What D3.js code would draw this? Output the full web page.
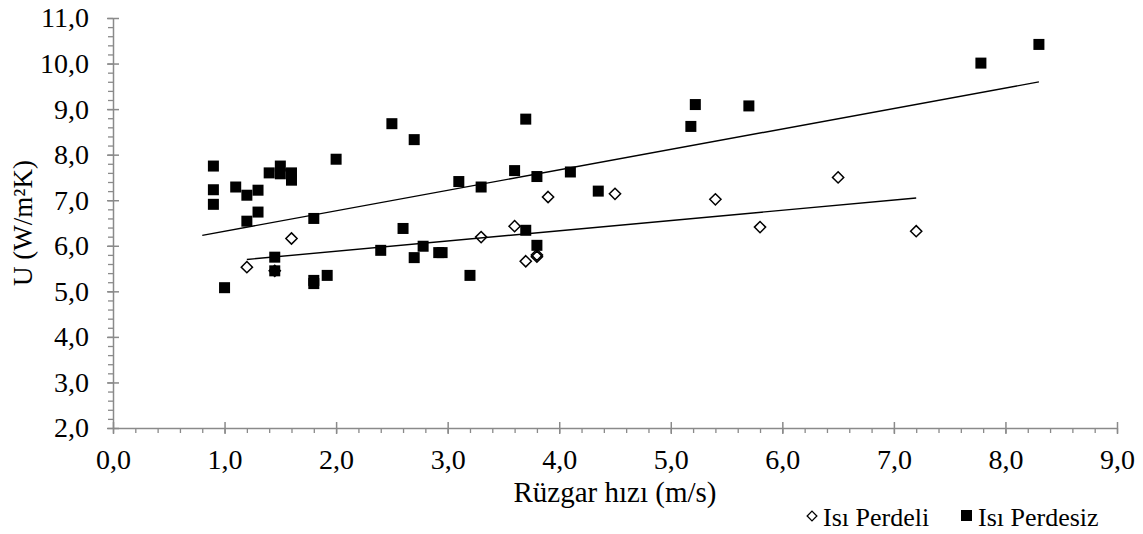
<!DOCTYPE html>
<html>
<head>
<meta charset="utf-8">
<script src="https://cdn.jsdelivr.net/npm/d3@7"></script>
<style>
  body { margin: 0; background: #fff; }
  svg text { font-family: 'Liberation Serif', 'Times New Roman', serif; fill: #000; }
</style>
</head>
<body>
<div id="chart"></div>
<script>
// Isı Perdeli (open diamonds)
const perdeliX = [1.2, 1.45, 1.6, 3.3, 3.6, 3.7, 3.8, 3.8, 3.9, 4.5, 5.4, 5.8, 6.5, 7.2]
const perdeliY = [5.53, 5.45, 6.16, 6.19, 6.43, 5.66, 5.76, 5.8, 7.07, 7.14, 7.02, 6.41, 7.5, 6.32]

// Isı Perdesiz (filled squares)
const perdesizX = [0.9, 0.9, 0.9, 1.0, 1.1, 1.2, 1.2, 1.3, 1.3, 1.4, 1.45, 1.45, 1.5, 1.5, 1.6, 1.6,
    1.8, 1.8, 1.8, 1.92, 2.0, 2.4, 2.5, 2.6, 2.7, 2.7, 2.78, 2.92, 2.95, 3.1, 3.2, 3.3, 3.6,
    3.7, 3.7, 3.8, 3.8, 4.1, 4.35, 5.18, 5.22, 5.7, 7.78, 8.3]
const perdesizY = [7.75, 7.23, 6.91, 5.08, 7.29, 7.11, 6.54, 7.22, 6.74, 7.6, 5.75, 5.45, 7.75, 7.58, 7.6, 7.44,
    6.6, 5.24, 5.17, 5.35, 7.9, 5.9, 8.68, 6.38, 8.33, 5.74, 5.99, 5.85, 5.85, 7.41, 5.35, 7.29, 7.65,
    8.78, 6.34, 7.52, 6.01, 7.62, 7.2, 8.62, 9.1, 9.07, 10.01, 10.42]

// linear trend lines: [x start, x end], slope, intercept
const perdeliTrend = { range: [1.2, 7.2], slope: 0.225, intercept: 5.43 }
const perdesizTrend = { range: [0.8, 8.3], slope: 0.449, intercept: 5.87 }

const xTicks = [0, 1, 2, 3, 4, 5, 6, 7, 8, 9]
const yTicks = [2, 3, 4, 5, 6, 7, 8, 9, 10, 11]
const legendLabels = ['Isı Perdeli', 'Isı Perdesiz']

const width = 1143
const height = 534
const margin = { top: 18, right: 26, bottom: 106, left: 113 }
const axisColor = '#8a8a8a'
const fmt = d => d.toFixed(1).replace('.', ',')

const svg = d3.select('#chart')
    .append('svg')
    .attr('width', width)
    .attr('height', height)

const xScale = d3.scaleLinear()
    .domain([0, 9])
    .range([margin.left, width - margin.right])

const yScale = d3.scaleLinear()
    .domain([2, 11])
    .range([height - margin.bottom, margin.top])

// minor ticks every 0.2
const xMinor = d3.range(0, 9.0001, 0.2).map(d => +d.toFixed(1))
const yMinor = d3.range(2, 11.0001, 0.2).map(d => +d.toFixed(1))

svg.append('g')
    .attr('transform', `translate(0,${yScale(2)})`)
    .call(d3.axisBottom(xScale).tickValues(xMinor).tickSize(5).tickFormat(''))
    .call(g => g.select('.domain').remove())
    .selectAll('line').attr('stroke', axisColor).attr('stroke-width', 1.3)

svg.append('g')
    .attr('transform', `translate(${xScale(0)},0)`)
    .call(d3.axisLeft(yScale).tickValues(yMinor).tickSize(5).tickFormat(''))
    .call(g => g.select('.domain').remove())
    .selectAll('line').attr('stroke', axisColor).attr('stroke-width', 1.3)

// major axes, ticks cross the axis line
const xAxis = svg.append('g')
    .attr('transform', `translate(0,${yScale(2)})`)
    .call(d3.axisBottom(xScale).tickValues(xTicks).tickSize(6).tickSizeOuter(0).tickPadding(15).tickFormat(fmt))
    .attr('font-family', null)
    .attr('font-size', null)

xAxis.selectAll('.tick line').attr('y1', -6)
xAxis.selectAll('line, path').attr('stroke', axisColor).attr('stroke-width', 1.5)
xAxis.selectAll('text').style('font-size', '28px')

const yAxis = svg.append('g')
    .attr('transform', `translate(${xScale(0)},0)`)
    .call(d3.axisLeft(yScale).tickValues(yTicks).tickSize(6).tickSizeOuter(0).tickPadding(18).tickFormat(fmt))
    .attr('font-family', null)
    .attr('font-size', null)

yAxis.selectAll('.tick line').attr('x1', 6)
yAxis.selectAll('line, path').attr('stroke', axisColor).attr('stroke-width', 1.5)
yAxis.selectAll('text').style('font-size', '28px')

// axis titles
svg.append('text')
    .attr('x', (xScale(0) + xScale(9)) / 2)
    .attr('y', 502)
    .attr('text-anchor', 'middle')
    .style('font-size', '29px')
    .text('Rüzgar hızı (m/s)')

svg.append('text')
    .attr('transform', `translate(32,${(yScale(2) + yScale(11)) / 2}) rotate(-90)`)
    .attr('text-anchor', 'middle')
    .style('font-size', '27px')
    .text('U (W/m²K)')

// trend lines
const trendLine = t => t.range.map(x => [xScale(x), yScale(t.slope * x + t.intercept)])

svg.selectAll('.trend')
    .data([perdeliTrend, perdesizTrend])
    .enter()
    .append('path')
        .attr('class', 'trend')
        .attr('d', d => d3.line()(trendLine(d)))
        .attr('stroke', '#000')
        .attr('stroke-width', 1.4)
        .attr('fill', 'none')

// squares
const sq = 11
svg.selectAll('.sq')
    .data(perdesizX.map((x, i) => [x, perdesizY[i]]))
    .enter()
    .append('rect')
        .attr('class', 'sq')
        .attr('x', d => xScale(d[0]) - sq / 2)
        .attr('y', d => yScale(d[1]) - sq / 2)
        .attr('width', sq)
        .attr('height', sq)
        .attr('fill', '#000')

// diamonds
const diamond = d3.symbol().type(d3.symbolDiamond2).size(80)
svg.selectAll('.dia')
    .data(perdeliX.map((x, i) => [x, perdeliY[i]]))
    .enter()
    .append('path')
        .attr('class', 'dia')
        .attr('d', diamond)
        .attr('transform', d => `translate(${xScale(d[0])},${yScale(d[1])})`)
        .attr('fill', 'none')
        .attr('stroke', '#000')
        .attr('stroke-width', 1.5)

// legend
const legend = svg.append('g')
legend.append('path')
    .attr('d', d3.symbol().type(d3.symbolDiamond2).size(60))
    .attr('transform', 'translate(812,516)')
    .attr('fill', '#fff')
    .attr('stroke', '#000')
    .attr('stroke-width', 1.3)
legend.append('rect')
    .attr('x', 961).attr('y', 510).attr('width', 11).attr('height', 11)
    .attr('fill', '#000')
legend.selectAll('.lt')
    .data(legendLabels)
    .enter()
    .append('text')
        .attr('class', 'lt')
        .attr('x', (d, i) => i === 0 ? 823 : 978)
        .attr('y', 526)
        .style('font-size', '26px')
        .text(d => d)
</script>
</body>
</html>
